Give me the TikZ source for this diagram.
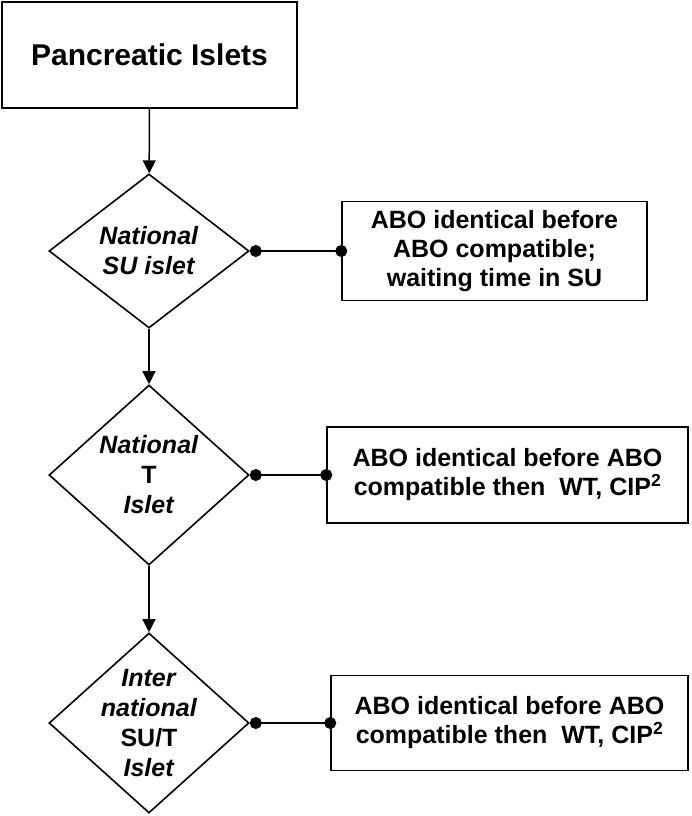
\documentclass[tikz,border=0pt]{standalone}
\usepackage{fontspec}
\setmainfont{Liberation Sans}
\usetikzlibrary{shapes.geometric,arrows.meta}

\begin{document}
\begin{tikzpicture}[x=1pt,y=-1pt,
    start/.style={draw,line width=1.5pt,minimum width=295pt,minimum height=106pt,
      font=\bfseries\fontsize{30}{36}\selectfont},
    decision/.style={draw,diamond,line width=1.6pt,inner sep=0pt,minimum width=200pt},
    rulebox/.style={draw,line width=1.5pt,inner sep=0pt},
    dtext/.style={align=center,font=\bfseries\fontsize{25}{30}\selectfont},
    btext/.style={align=center,font=\bfseries\fontsize{25}{29}\selectfont},
    flow/.style={line width=1.5pt,-{Triangle[length=13pt,width=13pt]}},
    link/.style={line width=1.5pt,{Circle[length=12pt]}-{Circle[length=12pt]},shorten >=-6pt}]
    \useasboundingbox (0,0) rectangle (691,816);
    \node[start] (islets) at (149.5,55) {Pancreatic Islets};
    \node[decision,minimum height=154pt,label={[dtext]center:\textit{National}\\\textit{SU islet}}]
      (natsu) at (149,251) {};
    \node[decision,minimum height=180pt,label={[dtext]center:\textit{National}\\T\\\textit{Islet}}]
      (natt) at (149,475) {};
    \node[decision,minimum height=180pt,label={[dtext]center:\textit{Inter}\\\textit{national}\\SU/T\\\textit{Islet}}]
      (intl) at (149,723) {};
    \node[rulebox,minimum width=305pt,minimum height=99pt,
      label={[btext]center:ABO identical before\\ABO compatible;\\waiting time in SU}]
      (rulesu) at (494.5,251) {};
    \node[rulebox,minimum width=361pt,minimum height=96pt,
      label={[btext]center:ABO identical before ABO\\compatible then~ WT, CIP\textsuperscript{2}}]
      (rulet) at (507.5,475) {};
    \node[rulebox,minimum width=357pt,minimum height=95pt,
      label={[btext]center:ABO identical before ABO\\compatible then~ WT, CIP\textsuperscript{2}}]
      (ruleintl) at (509.5,723) {};
    \draw[flow] (islets) -- (natsu);
    \draw[flow] (natsu) -- (natt);
    \draw[flow] (natt) -- (intl);
    \draw[link] (natsu.east) -- (rulesu.west);
    \draw[link] (natt.east) -- (rulet.west);
    \draw[link] (intl.east) -- (ruleintl.west);
\end{tikzpicture}
\end{document}
